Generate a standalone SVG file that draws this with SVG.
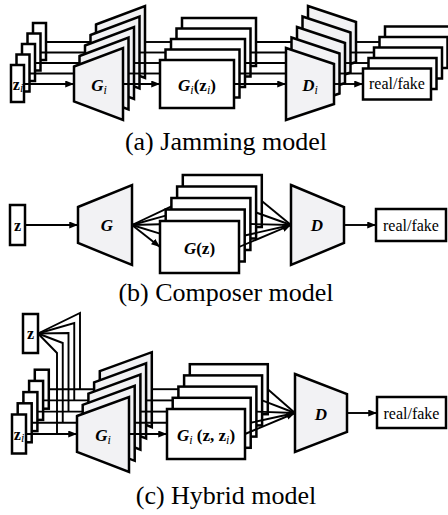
<svg xmlns="http://www.w3.org/2000/svg" width="448" height="515" viewBox="0 0 448 515">
<defs>
<style>
.bx{fill:#fff;stroke:#000;stroke-width:2.5}
.tp{fill:#f2f2f4;stroke:#000;stroke-width:2.5;stroke-linejoin:miter}
.ln{fill:none;stroke:#000;stroke-width:1.9}
.ar{marker-end:url(#ah)}
.lb{font-family:"Liberation Serif","Times New Roman",serif;font-size:17px;font-weight:bold;font-style:italic;text-anchor:middle}
.zl{font-family:"Liberation Serif","Times New Roman",serif;font-size:16px;font-weight:bold;text-anchor:middle}
.sub{font-size:12px;font-weight:normal;font-style:italic}
.up{font-style:normal}
.rf{font-family:"Liberation Serif","Times New Roman",serif;font-size:16px;text-anchor:middle}
.cap{font-family:"Liberation Serif","Times New Roman",serif;font-size:26px;text-anchor:middle}
</style>
<marker id="ah" viewBox="0 0 10 8" markerWidth="9" markerHeight="7" refX="10" refY="4" orient="auto" markerUnits="userSpaceOnUse"><path d="M0,0 L10,4 L0,8 z" fill="#000"/></marker>
</defs>

<!-- (a) Jamming model -->
<g id="a-z">
<rect class="bx" x="33" y="23" width="13" height="37"/>
<rect class="bx" x="27.5" y="33.5" width="13" height="37"/>
<rect class="bx" x="22" y="44" width="13" height="37"/>
<rect class="bx" x="16.5" y="54.5" width="13" height="37"/>
<rect class="bx" x="11" y="65" width="13" height="37"/>
<text class="zl" x="18" y="90" font-size="15">z<tspan class="sub" dy="2">i</tspan></text>
</g>
<g id="a-G">
<polygon class="tp" points="96,24.5 145,6 145,78 96,59.5"/>
<polygon class="tp" points="90.5,35 139.5,16.5 139.5,88.5 90.5,70"/>
<polygon class="tp" points="85,45.5 134,27 134,99 85,80.5"/>
<polygon class="tp" points="79.5,56 128.5,37.5 128.5,109.5 79.5,91"/>
<polygon class="tp" points="74,66.5 123,48 123,120 74,101.5"/>
<text class="lb" x="99" y="91">G<tspan class="sub" dy="3">i</tspan></text>
</g>
<g id="a-Gz">
<rect class="bx" x="182" y="18" width="74" height="48"/>
<rect class="bx" x="176.5" y="28.5" width="74" height="48"/>
<rect class="bx" x="171" y="39" width="74" height="48"/>
<rect class="bx" x="165.5" y="49.5" width="74" height="48"/>
<rect class="bx" x="160" y="60" width="74" height="48"/>
<text class="lb" x="197" y="91">G<tspan class="sub" dy="3">i</tspan><tspan class="up" dy="-3">(z</tspan><tspan class="sub" dy="3">i</tspan><tspan class="up" dy="-3">)</tspan></text>
</g>
<g id="a-D">
<polygon class="tp" points="308,6 356,22 356,62 308,78"/>
<polygon class="tp" points="302.5,16.5 350.5,32.5 350.5,72.5 302.5,88.5"/>
<polygon class="tp" points="297,27 345,43 345,83 297,99"/>
<polygon class="tp" points="291.5,37.5 339.5,53.5 339.5,93.5 291.5,109.5"/>
<polygon class="tp" points="286,48 334,64 334,104 286,120"/>
<text class="lb" x="310" y="91">D<tspan class="sub" dy="3">i</tspan></text>
</g>
<g id="a-rf">
<rect class="bx" x="385" y="26.5" width="68" height="31"/>
<rect class="bx" x="379.5" y="37" width="68" height="31"/>
<rect class="bx" x="374" y="47.5" width="68" height="31"/>
<rect class="bx" x="368.5" y="58" width="68" height="31"/>
<rect class="bx" x="363" y="68.5" width="68" height="31"/>
<text class="rf" x="397" y="89" font-size="15.5">real/fake</text>
</g>

<!-- (b) Composer model -->
<g id="b-z">
<rect class="bx" x="10" y="205" width="15" height="40"/>
<text class="zl" x="17.5" y="231">z</text>
</g>
<g id="b-G">
<polygon class="tp" points="78,207 132,185 132,265 78,243"/>
<text class="lb" x="107" y="231" font-size="18">G</text>
</g>
<g id="b-Gz">
<rect class="bx" x="182.8" y="175" width="79" height="52"/>
<rect class="bx" x="177.1" y="186.5" width="79" height="52"/>
<rect class="bx" x="171.4" y="198" width="79" height="52"/>
<rect class="bx" x="165.7" y="209.5" width="79" height="52"/>
<rect class="bx" x="160" y="221" width="79" height="52"/>
<text class="lb" x="199.5" y="254">G<tspan class="up">(z)</tspan></text>
</g>
<g id="b-D">
<polygon class="tp" points="291,185 344,207 344,243 291,265"/>
<text class="lb" x="317" y="231" font-size="18">D</text>
</g>
<g id="b-rf">
<rect class="bx" x="376" y="209" width="70" height="32"/>
<text class="rf" x="411" y="230.5" font-size="16.5">real/fake</text>
</g>

<!-- (c) Hybrid model -->
<g id="c-z">
<rect class="bx" x="23" y="314" width="15" height="39"/>
<text class="zl" x="30.5" y="338.5">z</text>
</g>
<g id="c-zi">
<rect class="bx" x="34.8" y="369.7" width="14" height="39"/>
<rect class="bx" x="29.1" y="380.9" width="14" height="39"/>
<rect class="bx" x="23.4" y="392.1" width="14" height="39"/>
<rect class="bx" x="17.7" y="403.3" width="14" height="39"/>
<rect class="bx" x="12" y="414.5" width="14" height="39"/>
<text class="zl" x="19" y="440" font-size="15">z<tspan class="sub" dy="2">i</tspan></text>
</g>
<g id="c-G">
<polygon class="tp" points="99.8,371.2 151.8,352.2 151.8,427.2 99.8,407.2"/>
<polygon class="tp" points="94.1,382.4 146.1,363.4 146.1,438.4 94.1,418.4"/>
<polygon class="tp" points="88.4,393.6 140.4,374.6 140.4,449.6 88.4,429.6"/>
<polygon class="tp" points="82.7,404.8 134.7,385.8 134.7,460.8 82.7,440.8"/>
<polygon class="tp" points="77,416 129,397 129,472 77,452"/>
<text class="lb" x="103" y="441">G<tspan class="sub" dy="3">i</tspan></text>
</g>
<g id="c-Gz">
<rect class="bx" x="189.8" y="364.2" width="78" height="50"/>
<rect class="bx" x="184.1" y="375.4" width="78" height="50"/>
<rect class="bx" x="178.4" y="386.6" width="78" height="50"/>
<rect class="bx" x="172.7" y="397.8" width="78" height="50"/>
<rect class="bx" x="167" y="409" width="78" height="50"/>
<text class="lb" x="206" y="441">G<tspan class="sub" dy="3">i</tspan><tspan class="up" dy="-3"> (z, z</tspan><tspan class="sub" dy="3">i</tspan><tspan class="up" dy="-3">)</tspan></text>
</g>
<g id="c-D">
<polygon class="tp" points="295,374 347,394 347,432 295,452"/>
<text class="lb" x="321" y="419.5" font-size="18">D</text>
</g>
<g id="c-rf">
<rect class="bx" x="377" y="397" width="69" height="31"/>
<text class="rf" x="411.5" y="418.5" font-size="16.5">real/fake</text>
</g>

<g id="connectors">
<!-- (a) z -> G -->
<line class="ln" x1="46" y1="42" x2="90.5" y2="42"/>
<line class="ln" x1="40.5" y1="52.5" x2="85" y2="52.5"/>
<line class="ln" x1="35" y1="63" x2="79.5" y2="63"/>
<line class="ln" x1="29.5" y1="73.5" x2="74" y2="73.5"/>
<line class="ln ar" x1="24" y1="84" x2="74" y2="84"/>
<!-- (a) G -> Gz -->
<line class="ln" x1="145" y1="42" x2="171" y2="42"/>
<line class="ln" x1="139.5" y1="52.5" x2="165.5" y2="52.5"/>
<line class="ln" x1="134" y1="63" x2="160" y2="63"/>
<line class="ln" x1="128.5" y1="73.5" x2="160" y2="73.5"/>
<line class="ln ar" x1="123" y1="84" x2="160" y2="84"/>
<!-- (a) Gz -> D -->
<line class="ln" x1="256" y1="42" x2="291.5" y2="42"/>
<line class="ln" x1="250.5" y1="52.5" x2="286" y2="52.5"/>
<line class="ln" x1="245" y1="63" x2="286" y2="63"/>
<line class="ln" x1="239.5" y1="73.5" x2="286" y2="73.5"/>
<line class="ln ar" x1="234" y1="84" x2="286" y2="84"/>
<!-- (a) D -> real/fake -->
<line class="ln" x1="356" y1="42" x2="379.5" y2="42"/>
<line class="ln" x1="350.5" y1="52.5" x2="374" y2="52.5"/>
<line class="ln" x1="345" y1="63" x2="368.5" y2="63"/>
<line class="ln" x1="339.5" y1="73.5" x2="363" y2="73.5"/>
<line class="ln ar" x1="334" y1="84" x2="363" y2="84"/>

<!-- (b) -->
<line class="ln ar" x1="25" y1="225" x2="78" y2="225"/>
<line class="ln" x1="132" y1="225" x2="171.4" y2="206.4"/>
<line class="ln" x1="132" y1="225" x2="165.7" y2="215.7"/>
<line class="ln" x1="132" y1="225" x2="160" y2="224.3"/>
<line class="ln" x1="132" y1="225" x2="160" y2="233.7"/>
<line class="ln ar" x1="132" y1="225" x2="160" y2="247"/>
<line class="ln" x1="261.8" y1="201" x2="291" y2="225"/>
<line class="ln" x1="256.1" y1="212.5" x2="291" y2="225"/>
<line class="ln" x1="250.4" y1="224" x2="291" y2="225"/>
<line class="ln" x1="244.7" y1="235.5" x2="291" y2="225"/>
<line class="ln ar" x1="239" y1="247" x2="291" y2="225"/>
<line class="ln ar" x1="344" y1="225" x2="376" y2="225"/>

<!-- (c) z fan -->
<polyline class="ln" points="38,333.5 80,313 80,389.2"/>
<polyline class="ln" points="38,333.5 74.25,323 74.25,400.4"/>
<polyline class="ln" points="38,333.5 68.5,333 68.5,411.6"/>
<polyline class="ln" points="38,333.5 62.75,343 62.75,422.8"/>
<polyline class="ln" points="38,333.5 57,353 57,434"/>
<!-- (c) zi -> G -->
<line class="ln" x1="48.8" y1="389.2" x2="94.1" y2="389.2"/>
<line class="ln" x1="43.1" y1="400.4" x2="88.4" y2="400.4"/>
<line class="ln" x1="37.4" y1="411.6" x2="82.7" y2="411.6"/>
<line class="ln" x1="31.7" y1="422.8" x2="77" y2="422.8"/>
<line class="ln ar" x1="26" y1="434" x2="77" y2="434"/>
<!-- (c) G -> Gz -->
<line class="ln" x1="151.8" y1="389.2" x2="178.4" y2="389.2"/>
<line class="ln" x1="146.1" y1="400.4" x2="172.7" y2="400.4"/>
<line class="ln" x1="140.4" y1="411.6" x2="167" y2="411.6"/>
<line class="ln" x1="134.7" y1="422.8" x2="167" y2="422.8"/>
<line class="ln ar" x1="129" y1="434" x2="167" y2="434"/>
<!-- (c) Gz -> D -->
<line class="ln" x1="267.8" y1="389.2" x2="295" y2="413"/>
<line class="ln" x1="262.1" y1="400.4" x2="295" y2="413"/>
<line class="ln" x1="256.4" y1="411.6" x2="295" y2="413"/>
<line class="ln" x1="250.7" y1="422.8" x2="295" y2="413"/>
<line class="ln ar" x1="245" y1="434" x2="295" y2="413"/>
<line class="ln ar" x1="347" y1="413" x2="377" y2="413"/>
</g>

<g id="captions">
<text class="cap" x="226" y="150">(a) Jamming model</text>
<text class="cap" x="226" y="301">(b) Composer model</text>
<text class="cap" x="226" y="504">(c) Hybrid model</text>
</g>
</svg>
